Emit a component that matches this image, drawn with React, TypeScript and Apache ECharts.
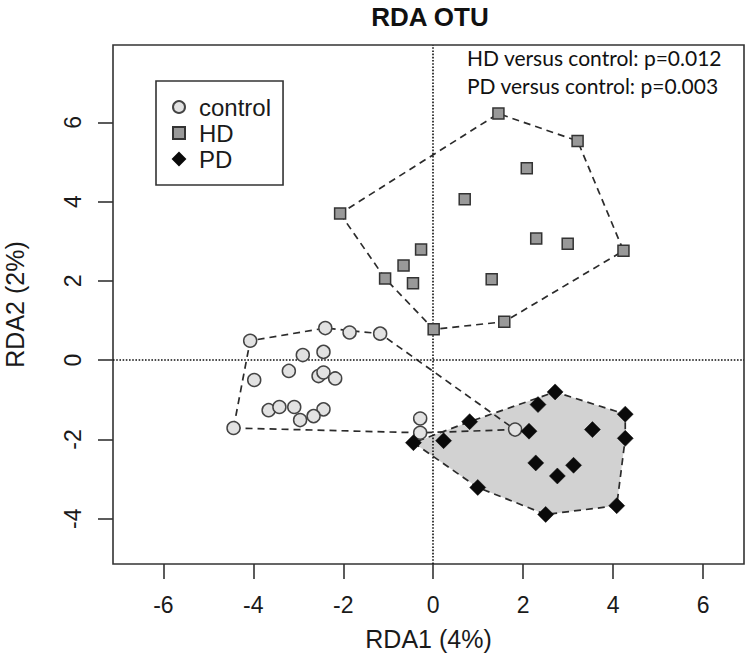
import React, { useEffect, useRef } from "react";
import * as echarts from "echarts";

// ---- data ----
const controlPoints: [number, number][] = [
  [-4.07, 0.49], [-2.4, 0.81], [-1.86, 0.7], [-1.18, 0.67], [-2.9, 0.13],
  [-2.44, 0.21], [-3.21, -0.27], [-3.98, -0.5], [-2.55, -0.4], [-2.44, -0.31],
  [-2.18, -0.46], [-3.66, -1.26], [-3.42, -1.18], [-3.09, -1.18], [-2.44, -1.24],
  [-2.66, -1.41], [-2.96, -1.51], [-4.44, -1.71], [-0.29, -1.47], [-0.29, -1.83],
  [1.82, -1.75],
];
const hdPoints: [number, number][] = [
  [1.45, 6.22], [3.21, 5.53], [2.08, 4.84], [0.7, 4.06], [-2.07, 3.7],
  [2.29, 3.07], [2.99, 2.94], [4.23, 2.76], [-0.27, 2.79], [-0.66, 2.39],
  [-1.07, 2.06], [-0.45, 1.94], [1.3, 2.04], [1.58, 0.97], [0.01, 0.78],
];
const pdPoints: [number, number][] = [
  [2.71, -0.8], [2.33, -1.12], [4.27, -1.36], [0.81, -1.55], [2.13, -1.79],
  [3.54, -1.75], [4.27, -1.97], [-0.44, -2.08], [0.23, -2.03], [2.28, -2.59],
  [3.12, -2.65], [2.76, -2.92], [0.99, -3.21], [4.08, -3.67], [2.5, -3.89],
];
const groupNames = ["control", "HD", "PD"];
const xTicks = [-6, -4, -2, 0, 2, 4, 6];
const yTicks = [-4, -2, 0, 2, 4, 6];
const xRange = [-7.12, 6.91];
const yRange = [-5.14, 7.95];
const titleText = "RDA OTU";
const xName = "RDA1 (4%)";
const yName = "RDA2 (2%)";
const notes = ["HD versus control: p=0.012", "PD versus control: p=0.003"];

// convex hull (monotone chain)
function hull(pts: [number, number][]): [number, number][] {
  const p = pts.slice().sort((a, b) => a[0] - b[0] || a[1] - b[1]);
  const cross = (o: number[], a: number[], b: number[]) =>
    (a[0] - o[0]) * (b[1] - o[1]) - (a[1] - o[1]) * (b[0] - o[0]);
  const lower: [number, number][] = [];
  for (const q of p) {
    while (lower.length >= 2 && cross(lower[lower.length - 2], lower[lower.length - 1], q) <= 0) lower.pop();
    lower.push(q);
  }
  const upper: [number, number][] = [];
  for (let i = p.length - 1; i >= 0; i--) {
    const q = p[i];
    while (upper.length >= 2 && cross(upper[upper.length - 2], upper[upper.length - 1], q) <= 0) upper.pop();
    upper.push(q);
  }
  upper.pop();
  lower.pop();
  return lower.concat(upper);
}

const FONT = "Liberation Sans, Arial, sans-serif";

function hullSeries(pts: [number, number][], fill: string, stroke: boolean, z: number) {
  const h = hull(pts);
  return {
    type: "custom",
    silent: true,
    z,
    clip: true,
    data: [h[0]],
    renderItem: (_params: any, api: any) => {
      const coords = h.map((p) => api.coord(p));
      return {
        type: "polygon",
        shape: { points: coords },
        style: stroke
          ? { fill: "none", stroke: "#2b2b2b", lineWidth: 1.7, lineDash: [7, 5] }
          : { fill, stroke: "none" },
      };
    },
  };
}

export default function App() {
  const ref = useRef<HTMLDivElement>(null);
  useEffect(() => {
    if (!ref.current) return;
    const chart = echarts.init(ref.current, null, { renderer: "svg" });
    const option: any = {
      animation: false,
      textStyle: { fontFamily: FONT },
      grid: {
        left: 113,
        top: 45,
        right: 6,
        bottom: 104,
        show: true,
        borderColor: "#333",
        borderWidth: 1.6,
        backgroundColor: "transparent",
        containLabel: false,
        outerBoundsMode: "none",
      },
      xAxis: {
        type: "value",
        min: xRange[0],
        max: xRange[1],
        splitLine: { show: false },
        axisLine: { show: false, onZero: false },
        axisTick: { show: true, length: 15, inside: false, customValues: xTicks, lineStyle: { color: "#333", width: 1.6 } },
        axisLabel: { customValues: xTicks, margin: 29, fontSize: 23, color: "#1a1a1a", fontFamily: FONT },
        name: xName,
        nameLocation: "middle",
        nameGap: 62,
        nameTextStyle: { fontSize: 25, color: "#1a1a1a", fontFamily: FONT },
      },
      yAxis: {
        type: "value",
        min: yRange[0],
        max: yRange[1],
        splitLine: { show: false },
        axisLine: { show: false, onZero: false },
        axisTick: { show: true, length: 15, inside: false, customValues: yTicks, lineStyle: { color: "#333", width: 1.6 } },
        axisLabel: { customValues: yTicks, margin: 29, rotate: 90, fontSize: 23, color: "#1a1a1a", fontFamily: FONT },
        name: yName,
        nameLocation: "middle",
        nameGap: 86,
        nameTextStyle: { fontSize: 25, color: "#1a1a1a", fontFamily: FONT },
      },
      legend: {
        show: true,
        orient: "vertical",
        left: 156,
        top: 81,
        padding: [13, 12, 13, 16],
        itemGap: 0,
        itemWidth: 12,
        itemHeight: 12,
        borderColor: "#333",
        borderWidth: 1.6,
        data: groupNames,
        textStyle: { fontSize: 24, color: "#1a1a1a", fontFamily: FONT, lineHeight: 26, padding: [0, 0, 0, 9] },
      },
      graphic: [
        {
          type: "text",
          x: 430,
          y: 17,
          style: { text: titleText, font: "bold 26px Liberation Sans, Arial, sans-serif", fill: "#111", textAlign: "center", textVerticalAlign: "middle" },
        },
        {
          type: "text",
          x: 467,
          y: 57,
          style: { text: notes[0], font: "21px Lato, sans-serif", fill: "#111", textAlign: "left", textVerticalAlign: "middle" },
        },
        {
          type: "text",
          x: 467,
          y: 85,
          style: { text: notes[1], font: "21px Lato, sans-serif", fill: "#111", textAlign: "left", textVerticalAlign: "middle" },
        },
      ],
      series: [
        hullSeries(pdPoints, "#d2d2d2", false, 1),
        {
          type: "line",
          data: [],
          z: 2,
          silent: true,
          markLine: {
            silent: true,
            symbol: "none",
            label: { show: false },
            lineStyle: { type: "dotted", color: "#111", width: 1.6 },
            data: [{ xAxis: 0 }, { yAxis: 0 }],
          },
        },
        hullSeries(controlPoints, "none", true, 3),
        hullSeries(hdPoints, "none", true, 3),
        hullSeries(pdPoints, "none", true, 3),
        {
          name: groupNames[0],
          type: "scatter",
          z: 5,
          symbol: "circle",
          symbolSize: 13,
          itemStyle: { color: "#e2e2e2", borderColor: "#444", borderWidth: 1.5, opacity: 1 },
          data: controlPoints,
        },
        {
          name: groupNames[1],
          type: "scatter",
          z: 5,
          symbol: "rect",
          symbolSize: 11,
          itemStyle: { color: "#999", borderColor: "#333", borderWidth: 1.5, opacity: 1 },
          data: hdPoints,
        },
        {
          name: groupNames[2],
          type: "scatter",
          z: 5,
          symbol: "diamond",
          symbolSize: 16,
          itemStyle: { color: "#0a0a0a", borderColor: "#0a0a0a", borderWidth: 0.5, opacity: 1 },
          data: pdPoints,
        },
      ],
    };
    chart.setOption(option);
    return () => chart.dispose();
  }, []);
  return (
    <div
      ref={ref}
      style={{ position: "fixed", left: 0, top: 0, width: 750, height: 668, background: "#fff" }}
    />
  );
}
